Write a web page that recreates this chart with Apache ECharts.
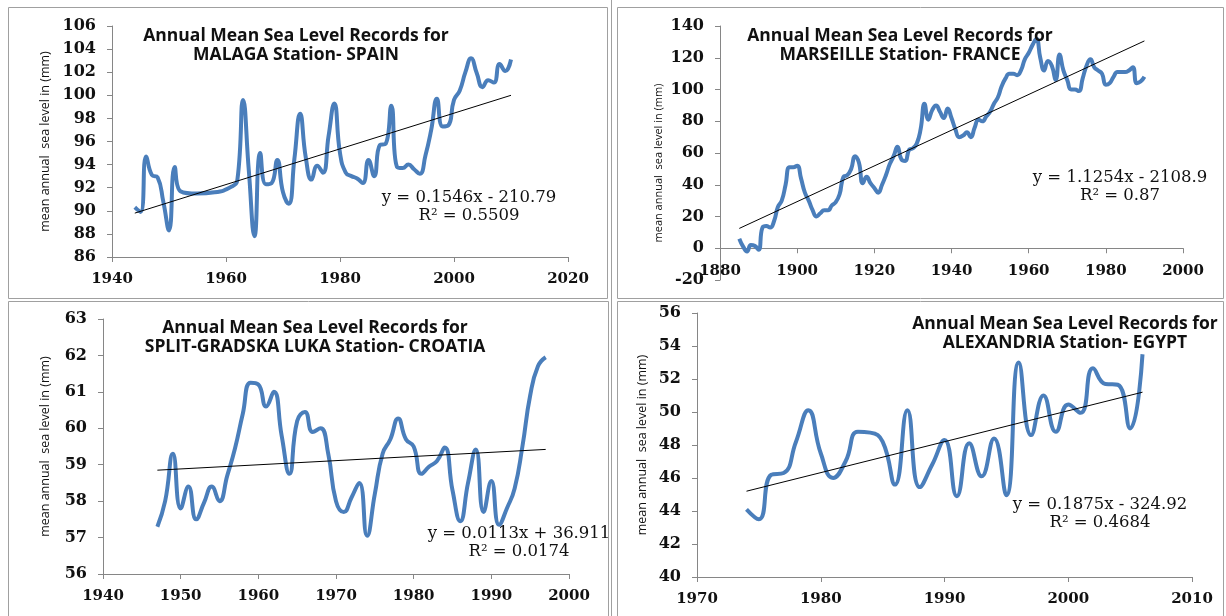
<!DOCTYPE html>
<html>
<head>
<meta charset="utf-8">
<script src="https://cdn.jsdelivr.net/npm/echarts@6/dist/echarts.min.js"></script>
<style>
  html, body { margin: 0; padding: 0; background: #fff; }
  #chart { width: 1226px; height: 616px; }
</style>
</head>
<body>
<div id="chart"></div>
<script>
// MALAGA - SPAIN
const malagaYears = [1944, 1945, 1946, 1947, 1948, 1949, 1950, 1951, 1952, 1955, 1958, 1961, 1962, 1963, 1964, 1965, 1966, 1967, 1968, 1969, 1970, 1971, 1972, 1973, 1974, 1975, 1976, 1977, 1978, 1979, 1980, 1981, 1982, 1983, 1984, 1985, 1986, 1987, 1988, 1989, 1990, 1991, 1992, 1993, 1994, 1995, 1996, 1997, 1998, 1999, 2000, 2001, 2002, 2003, 2004, 2005, 2006, 2007, 2008, 2009, 2010];
const malagaLevel = [90.3, 89.9, 94.7, 93.1, 92.9, 90.8, 88.3, 93.8, 91.7, 91.5, 91.6, 92.1, 92.7, 99.6, 93.5, 87.8, 95.0, 92.3, 92.4, 94.4, 91.6, 90.6, 94.5, 98.4, 94.6, 92.7, 93.9, 93.3, 96.5, 99.3, 95.0, 93.3, 93.0, 92.8, 92.4, 94.4, 93.0, 95.7, 95.8, 99.1, 93.8, 93.7, 94.0, 93.6, 93.2, 94.8, 97.0, 99.7, 97.3, 97.4, 99.6, 100.4, 102.0, 103.2, 101.9, 100.7, 101.3, 101.1, 102.7, 102.1, 103.1];
const malagaTrend = [[1944, 89.8], [2010, 100.0]];

// MARSEILLE - FRANCE
const marseilleYears = [1885, 1886, 1887, 1888, 1889, 1890, 1891, 1892, 1893, 1894, 1895, 1896, 1897, 1898, 1899, 1900, 1901, 1902, 1903, 1904, 1905, 1906, 1907, 1908, 1909, 1910, 1911, 1912, 1913, 1914, 1915, 1916, 1917, 1918, 1919, 1920, 1921, 1922, 1923, 1924, 1925, 1926, 1927, 1928, 1929, 1930, 1931, 1932, 1933, 1934, 1935, 1936, 1937, 1938, 1939, 1940, 1941, 1942, 1943, 1944, 1945, 1946, 1947, 1948, 1949, 1950, 1951, 1952, 1953, 1954, 1955, 1956, 1957, 1958, 1959, 1960, 1961, 1962, 1963, 1964, 1965, 1966, 1967, 1968, 1969, 1970, 1971, 1972, 1973, 1974, 1975, 1976, 1977, 1978, 1979, 1980, 1981, 1982, 1983, 1984, 1985, 1986, 1987, 1988, 1989, 1990];
const marseilleLevel = [6, 1, -2, 2, 1.5, -1, 13, 14, 13, 17, 26, 30, 40, 51, 51, 52, 44, 35, 30, 24, 20, 22, 24, 24, 27, 29, 34, 45, 46, 50, 58, 54, 41, 45, 41, 38, 35, 40, 46, 53, 58, 64, 56, 55, 62, 63, 66, 75, 91, 81, 87, 90, 86, 82, 88, 82, 75, 70, 71, 73, 70, 76, 81, 80, 83, 86, 91, 95, 102, 107, 110, 110, 109, 112, 119, 123, 128, 132, 120, 112, 118, 115, 106, 122, 112, 106, 100, 100, 99, 107, 115, 119, 114, 112, 110, 103, 104, 108, 111, 111, 111, 112, 114, 104, 105, 108];
const marseilleTrend = [[1885, 12.5], [1990, 130.6]];

// SPLIT-GRADSKA LUKA - CROATIA
const splitYears = [1947, 1948, 1949, 1950, 1951, 1952, 1953, 1954, 1955, 1956, 1957, 1958, 1959, 1960, 1961, 1962, 1963, 1964, 1965, 1966, 1967, 1968, 1969, 1970, 1971, 1972, 1973, 1974, 1975, 1976, 1977, 1978, 1979, 1980, 1981, 1982, 1983, 1984, 1985, 1986, 1987, 1988, 1989, 1990, 1991, 1992, 1993, 1994, 1995, 1996, 1997];
const splitLevel = [57.3, 58.0, 59.3, 57.8, 58.4, 57.5, 57.95, 58.4, 58.0, 58.7, 59.45, 60.4, 61.25, 61.2, 60.6, 61.0, 59.8, 58.75, 60.2, 60.45, 59.9, 60.0, 59.3, 58.0, 57.7, 58.1, 58.5, 57.05, 58.2, 59.3, 59.7, 60.27, 59.7, 59.5, 58.75, 58.95, 59.1, 59.47, 58.3, 57.45, 58.5, 59.42, 57.7, 58.55, 57.35, 57.8, 58.35, 59.5, 60.9, 61.7, 61.95];
const splitTrend = [[1947, 58.85], [1997, 59.42]];

// ALEXANDRIA - EGYPT
const alexYears = [1974, 1975, 1976, 1977, 1978, 1979, 1980, 1981, 1982, 1983, 1984, 1985, 1986, 1987, 1988, 1989, 1990, 1991, 1992, 1993, 1994, 1995, 1996, 1997, 1998, 1999, 2000, 2001, 2002, 2003, 2004, 2005, 2006];
const alexLevel = [44.1, 43.5, 46.2, 46.3, 48.2, 50.1, 47.5, 46.0, 47.0, 48.8, 48.75, 48.2, 45.6, 50.1, 45.45, 46.8, 48.3, 44.9, 48.1, 46.1, 48.4, 44.95, 53.0, 48.6, 51.0, 48.8, 50.45, 49.95, 52.65, 51.7, 51.65, 49.0, 53.5];
const alexTrend = [[1974, 45.2], [2006, 51.2]];

const titles = [
    'Annual Mean Sea Level Records for\nMALAGA Station- SPAIN',
    'Annual Mean Sea Level Records for\nMARSEILLE Station- FRANCE',
    'Annual Mean Sea Level Records for\nSPLIT-GRADSKA LUKA Station- CROATIA',
    'Annual Mean Sea Level Records for\nALEXANDRIA Station- EGYPT'
];
const equations = [
    'y = 0.1546x - 210.79\nR² = 0.5509',
    'y = 1.1254x - 2108.9\nR² = 0.87',
    'y = 0.0113x + 36.911\nR² = 0.0174',
    'y = 0.1875x - 324.92\nR² = 0.4684'
];
const yName = 'mean annual  sea level in (mm)';

const zip = (xs, ys) => xs.map((x, i) => [x, ys[i]]);

const stations = [
    { data: zip(malagaYears, malagaLevel), trend: malagaTrend, x: [1940, 2020, 20], y: [86, 106, 2] },
    { data: zip(marseilleYears, marseilleLevel), trend: marseilleTrend, x: [1880, 2000, 20], y: [-20, 140, 20] },
    { data: zip(splitYears, splitLevel), trend: splitTrend, x: [1940, 2000, 10], y: [56, 63, 1] },
    { data: zip(alexYears, alexLevel), trend: alexTrend, x: [1970, 2010, 10], y: [40, 56, 2] }
];

// layout of the four panels (pixels)
const grids = [
    { left: 112, top: 26, width: 456, height: 231 },
    { left: 720, top: 26, width: 463, height: 254 },
    { left: 103, top: 319, width: 466, height: 255 },
    { left: 697, top: 313, width: 495, height: 264 }
];
const titlePos = [[296, 27], [900, 27], [315, 319], [1065, 315]];
const eqPos = [[469, 207], [1120, 187], [519, 543], [1100, 514]];
const nameGaps = [60, 56, 51, 48];
const nameSizes = [12.5, 11, 12.5, 12.5];
// the France panel crosses its x axis at 0, which sits 20 of 160 units above the bottom
const xOffsets = [0, -254 * 20 / 160, 0, 0];

const axisColor = '#868686';
const lineBlue = '#4a7ebb';

const chart = echarts.init(document.getElementById('chart'));

const option = {
    backgroundColor: '#fff',
    animation: false,
    title: titles.map((t, i) => ({
        text: t,
        left: titlePos[i][0],
        top: titlePos[i][1],
        textAlign: 'center',
        padding: 0,
        textStyle: {
            fontFamily: 'Open Sans',
            fontWeight: 'bold',
            fontSize: 17.5,
            lineHeight: 19,
            color: '#111'
        }
    })),
    grid: grids.map(g => Object.assign({ containLabel: false }, g)),
    xAxis: stations.map((s, i) => ({
        type: 'value',
        gridIndex: i,
        min: s.x[0],
        max: s.x[1],
        interval: s.x[2],
        offset: xOffsets[i],
        splitLine: { show: false },
        axisLine: { show: true, onZero: false, lineStyle: { color: axisColor } },
        axisTick: { show: true, length: 5, lineStyle: { color: axisColor } },
        axisLabel: {
            margin: 15,
            fontFamily: 'DejaVu Serif',
            fontWeight: 'bold',
            fontSize: 15,
            color: '#111',
            showMinLabel: true,
            showMaxLabel: true,
            formatter: v => String(v)
        }
    })),
    yAxis: stations.map((s, i) => ({
        type: 'value',
        gridIndex: i,
        min: s.y[0],
        max: s.y[1],
        interval: s.y[2],
        name: yName,
        nameLocation: 'middle',
        nameGap: nameGaps[i],
        nameTextStyle: {
            fontFamily: 'Open Sans',
            fontSize: nameSizes[i],
            color: '#111',
            padding: i === 1 ? [0, 20, 0, 0] : 0
        },
        splitLine: { show: false },
        axisLine: { show: true, lineStyle: { color: axisColor } },
        axisTick: { show: true, length: 5, lineStyle: { color: axisColor } },
        axisLabel: {
            margin: 16,
            fontFamily: 'DejaVu Serif',
            fontWeight: 'bold',
            fontSize: 16,
            color: '#111',
            formatter: v => String(v)
        }
    })),
    series: stations.flatMap((s, i) => [
        {
            type: 'line',
            xAxisIndex: i,
            yAxisIndex: i,
            data: s.data,
            smooth: 0.5,
            showSymbol: false,
            lineStyle: { color: lineBlue, width: 4 },
            z: 2
        },
        {
            type: 'line',
            xAxisIndex: i,
            yAxisIndex: i,
            data: s.trend,
            showSymbol: false,
            lineStyle: { color: '#000', width: 1 },
            z: 3
        }
    ]),
    graphic: [
        // panel frames
        { type: 'rect', shape: { x: 8.5, y: 7.5, width: 599, height: 291 }, style: { fill: null, stroke: '#a0a0a0', lineWidth: 1 }, silent: true },
        { type: 'rect', shape: { x: 617.5, y: 7.5, width: 606, height: 291 }, style: { fill: null, stroke: '#a0a0a0', lineWidth: 1 }, silent: true },
        { type: 'line', shape: { x1: 611.5, y1: 0, x2: 611.5, y2: 616 }, style: { stroke: '#a0a0a0', lineWidth: 1 }, silent: true },
        { type: 'rect', shape: { x: 8.5, y: 301.5, width: 600, height: 330 }, style: { fill: null, stroke: '#a0a0a0', lineWidth: 1 }, silent: true },
        { type: 'rect', shape: { x: 617.5, y: 301.5, width: 606, height: 330 }, style: { fill: null, stroke: '#a0a0a0', lineWidth: 1 }, silent: true }
    ].concat(equations.map((e, i) => ({
        type: 'text',
        x: eqPos[i][0],
        y: eqPos[i][1],
        silent: true,
        style: {
            text: e,
            align: 'center',
            verticalAlign: 'middle',
            fontFamily: 'DejaVu Serif',
            fontSize: 16.5,
            lineHeight: 18,
            fill: '#111'
        }
    })))
};

chart.setOption(option);
window.addEventListener('resize', function () {
    chart.resize();
});
</script>
</body>
</html>
